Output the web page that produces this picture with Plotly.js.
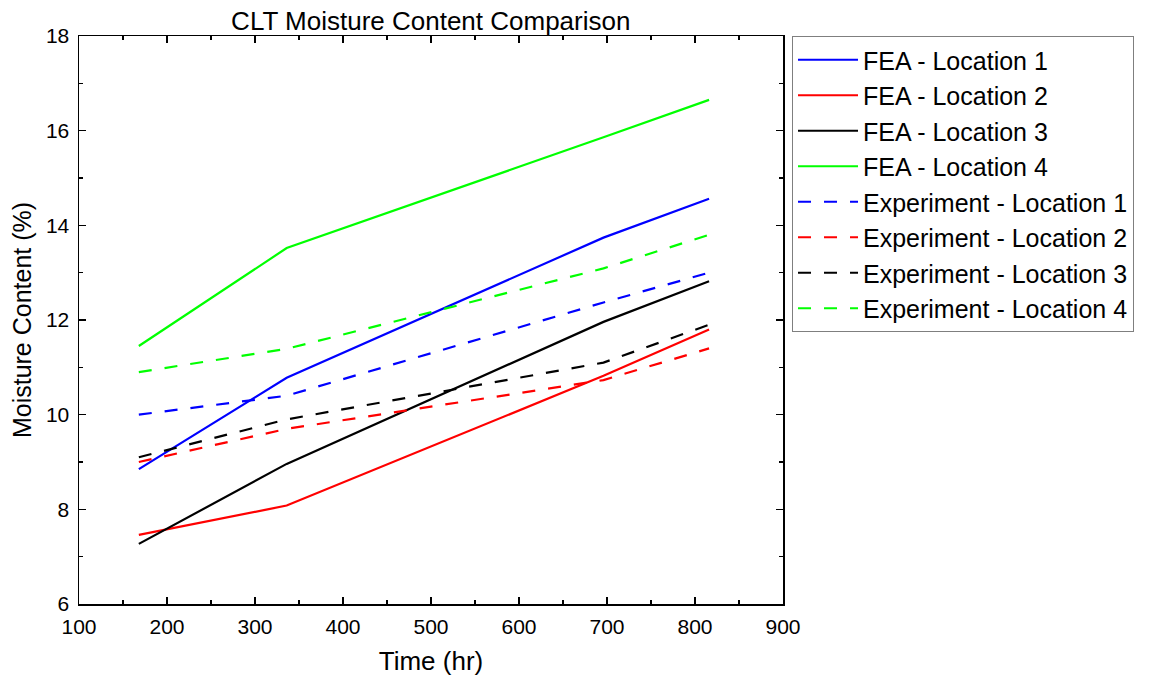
<!DOCTYPE html>
<html>
<head>
<meta charset="utf-8">
<script src="https://cdn.plot.ly/plotly-3.0.1.min.js"></script>
<style>html,body{margin:0;padding:0;background:#fff;}#chart{width:1158px;height:681px;}</style>
</head>
<body>
<div id="chart"></div>
<script>
const timeHr = [168, 336, 696, 816];
const feaLoc1 = [8.85, 10.78, 13.74, 14.56];
const feaLoc2 = [7.46, 8.08, 10.82, 11.80];
const feaLoc3 = [7.27, 8.96, 11.96, 12.82];
const feaLoc4 = [11.45, 13.52, 15.86, 16.65];
const expLoc1 = [10.00, 10.40, 12.37, 13.00];
const expLoc2 = [9.00, 9.70, 10.73, 11.40];
const expLoc3 = [9.10, 9.90, 11.10, 11.90];
const expLoc4 = [10.90, 11.39, 13.09, 13.80];
const seriesNames = ['FEA - Location 1','FEA - Location 2','FEA - Location 3','FEA - Location 4',
  'Experiment - Location 1','Experiment - Location 2','Experiment - Location 3','Experiment - Location 4'];
const seriesColors = ['#0000ff','#ff0000','#000000','#00ff00','#0000ff','#ff0000','#000000','#00ff00'];
const seriesData = [feaLoc1, feaLoc2, feaLoc3, feaLoc4, expLoc1, expLoc2, expLoc3, expLoc4];

const font = 'Liberation Sans, Arial, sans-serif';
const traces = seriesData.map((ys, i) => ({
  x: timeHr, y: ys, name: seriesNames[i], type: 'scatter', mode: 'lines',
  legendgroup: 'g' + i,
  line: {color: seriesColors[i], width: 2.2, dash: i < 4 ? 'solid' : '13px,13px'}
}));

const axisCommon = {
  showline: true, linecolor: '#000', linewidth: 1.5, mirror: 'ticks',
  ticks: 'inside', ticklen: 7, tickwidth: 1.5, tickcolor: '#000',
  showgrid: false, zeroline: false,
  tickfont: {family: font, size: 21, color: '#000'}
};

const layout = {
  width: 1158, height: 681,
  margin: {l: 79, r: 375, t: 36, b: 77},
  paper_bgcolor: '#fff', plot_bgcolor: '#fff',
  title: {text: 'CLT Moisture Content Comparison', x: 0.372, xanchor: 'center', y: 0.97, yanchor: 'middle',
    font: {family: font, size: 26, color: '#000'}},
  xaxis: Object.assign({}, axisCommon, {
    range: [100, 900], dtick: 100, tick0: 100, ticklabelstandoff: 3,
    minor: {ticks: 'inside', ticklen: 4, dtick: 50, tick0: 100, tickcolor: '#000', tickwidth: 1.5, showgrid: false},
    title: {text: 'Time (hr)', font: {family: font, size: 26, color: '#000'}, standoff: 15}
  }),
  yaxis: Object.assign({}, axisCommon, {
    range: [6, 18], dtick: 2, tick0: 6, ticklabelstandoff: 4,
    minor: {ticks: 'inside', ticklen: 4, dtick: 1, tick0: 6, tickcolor: '#000', tickwidth: 1.5, showgrid: false},
    title: {text: 'Moisture Content (%)', font: {family: font, size: 25, color: '#000'}, standoff: 7}
  }),
  showlegend: true,
  legend: {
    x: 1.0128, xanchor: 'left', y: 1.0, yanchor: 'top',
    bordercolor: '#7f7f7f', borderwidth: 1, bgcolor: '#fff',
    font: {family: font, size: 25, color: '#000'},
    traceorder: 'grouped', tracegroupgap: 0, itemwidth: 60
  }
};

Plotly.newPlot('chart', traces, layout, {displayModeBar: false, staticPlot: true});
</script>
</body>
</html>
